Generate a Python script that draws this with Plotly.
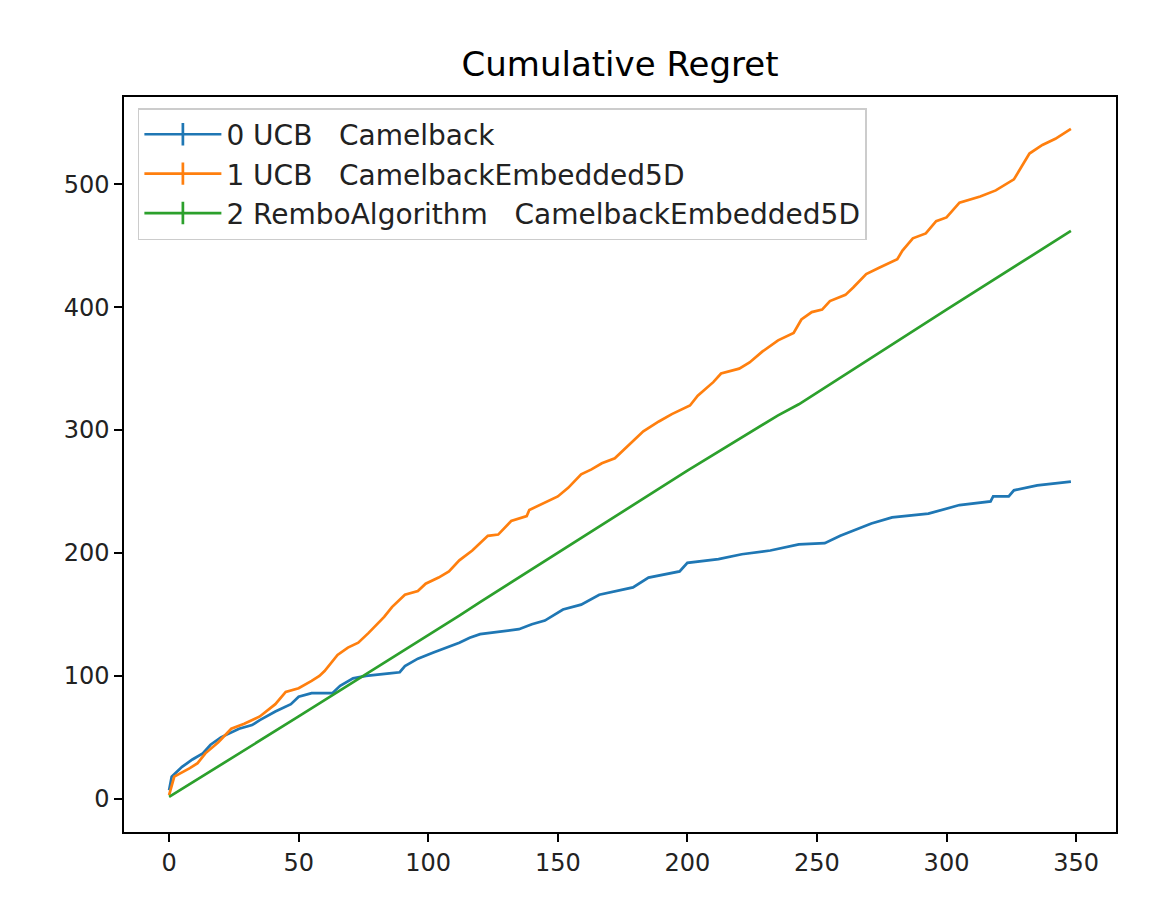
import plotly.graph_objects as go

# ---- data ----
blue_x = [0, 1, 5, 9, 13, 16, 20, 27, 32, 35, 41, 47, 50, 55, 63, 66, 71, 76, 85, 89,
          91, 96, 102, 107, 112, 116, 120, 135, 140, 145, 152, 159, 166, 179, 185, 197, 200,
          212, 221, 232, 243, 253, 259, 271, 279, 293, 305, 317, 318, 324, 326, 335, 348]
blue_y = [7, 18, 26, 32, 37, 44, 50, 57, 60, 64, 71, 77, 83, 86, 86, 92, 98, 100, 102, 103,
          108, 114, 119, 123, 127, 131, 134, 138, 142, 145, 154, 158, 166, 172, 180, 185, 192,
          195, 199, 202, 207, 208, 214, 224, 229, 232, 239, 242, 246, 246, 251, 255, 258]

orange_x = [0, 2, 8, 11, 14, 19, 24, 29, 35, 38, 41, 45, 50, 55, 58, 60, 65, 69, 73, 77,
            83, 86, 91, 96, 99, 104, 108, 112, 117, 123, 127, 132, 138, 139, 145, 150, 154,
            159, 163, 167, 172, 176, 183, 189, 194, 201, 204, 210, 213, 220, 224, 229, 235,
            241, 244, 248, 252, 255, 261, 264, 269, 274, 281, 283, 287, 292, 296, 300, 305,
            313, 319, 326, 329, 332, 337, 342, 348]
orange_y = [3, 18, 25, 29, 37, 46, 57, 61, 67, 72, 77, 87, 90, 96, 100, 104, 117, 123, 127, 135,
            148, 156, 166, 169, 175, 180, 185, 194, 202, 214, 215, 226, 230, 235, 241, 246, 253,
            264, 268, 273, 277, 285, 299, 307, 313, 320, 328, 339, 346, 350, 355, 364, 373,
            379, 390, 396, 398, 405, 410, 416, 427, 432, 439, 446, 456, 460, 470, 473, 485,
            490, 495, 504, 514, 525, 532, 537, 545]

green_x = [0, 50, 112, 120, 200, 235, 243, 300, 348]
green_y = [1.5, 67, 149, 160, 267, 312, 321, 398, 462]

series_names = ["0 UCB\u00a0\u00a0\u00a0Camelback",
                "1 UCB\u00a0\u00a0\u00a0CamelbackEmbedded5D",
                "2 RemboAlgorithm\u00a0\u00a0\u00a0CamelbackEmbedded5D"]
colors = ["#1f77b4", "#ff7f0e", "#2ca02c"]

x_ticks = [0, 50, 100, 150, 200, 250, 300, 350]
y_ticks = [0, 100, 200, 300, 400, 500]

FONT = "DejaVu Sans"
LW = 2.7

fig = go.Figure()
for xs, ys, name, c in zip([blue_x, orange_x, green_x], [blue_y, orange_y, green_y],
                           series_names, colors):
    fig.add_trace(go.Scatter(x=xs, y=ys, mode="lines", line=dict(color=c, width=LW),
                             name=name, legendgroup=name, showlegend=False))
    # legend entry (line with errorbar-style vertical tick)
    fig.add_trace(go.Scatter(x=[None], y=[None], mode="lines+markers", name=name,
                             legendgroup=name, line=dict(color=c, width=LW),
                             marker=dict(symbol="line-ns", size=26,
                                         line=dict(color=c, width=LW))))

axis_common = dict(showline=True, linecolor="black", linewidth=1.5, mirror=True,
                   ticks="outside", ticklen=8, tickwidth=1.5, tickcolor="black",
                   showgrid=False, zeroline=False,
                   tickfont=dict(family=FONT, size=24, color="#222222"))

# the page adds an 8px body margin, so the figure is 8px smaller than the window
W, H = 1162, 896
fig.update_layout(
    width=W, height=H,
    paper_bgcolor="white", plot_bgcolor="white",
    margin=dict(l=116, r=54, t=89, b=72),
    title=dict(text="Cumulative Regret", x=0.5, xref="paper", xanchor="center",
               y=1 - 56 / H, yref="container", yanchor="middle",
               font=dict(family=FONT, size=34, color="black")),
    xaxis=dict(range=[-17.4, 365.4], tickvals=x_ticks, **axis_common),
    yaxis=dict(range=[-27, 571], tickvals=y_ticks, **axis_common),
    legend=dict(x=0.014, y=0.985, xanchor="left", yanchor="top",
                bgcolor="rgba(255,255,255,0.8)", bordercolor="#cccccc", borderwidth=1.5,
                font=dict(family=FONT, size=28, color="#222222"),
                itemsizing="trace", tracegroupgap=0, itemwidth=77),
    showlegend=True,
)

fig.write_html("out.html")
